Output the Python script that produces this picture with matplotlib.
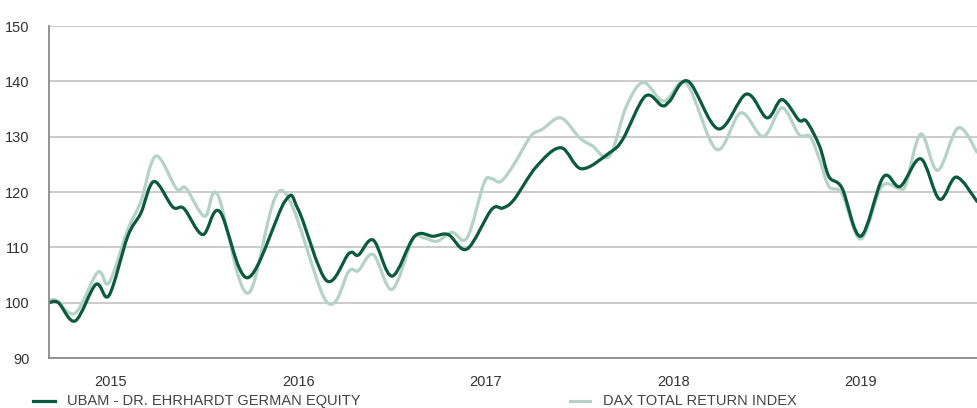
import numpy as np
import matplotlib
matplotlib.use("Agg")
import matplotlib.pyplot as plt
from matplotlib.path import Path
from matplotlib.patches import PathPatch
from matplotlib.lines import Line2D

# values (decimal year, index level)
ubam_x = [2014.67, 2014.72, 2014.81, 2014.92, 2014.99, 2015.09, 2015.16, 2015.23, 2015.33, 2015.39,
          2015.49, 2015.58, 2015.73, 2015.93, 2016.00, 2016.15, 2016.27, 2016.32, 2016.40, 2016.50,
          2016.62, 2016.72, 2016.80, 2016.90, 2017.03, 2017.09, 2017.15, 2017.27, 2017.40, 2017.51,
          2017.66, 2017.73, 2017.85, 2017.94, 2017.98, 2018.08, 2018.24, 2018.39, 2018.50, 2018.58,
          2018.67, 2018.71, 2018.78, 2018.83, 2018.90, 2019.00, 2019.12, 2019.21, 2019.32, 2019.42,
          2019.51, 2019.62]
ubam_y = [100.0, 100.0, 96.7, 103.3, 101.3, 112.0, 116.2, 121.9, 117.3, 117.0,
          112.3, 116.5, 104.5, 118.4, 116.8, 104.0, 108.9, 108.6, 111.3, 104.8,
          112.0, 112.0, 112.3, 109.7, 116.8, 117.1, 118.6, 124.6, 128.0, 124.2,
          127.1, 129.5, 137.3, 135.6, 136.4, 140.0, 131.4, 137.7, 133.4, 136.7,
          133.0, 132.8, 128.3, 122.8, 120.7, 112.0, 122.7, 121.0, 126.0, 118.7,
          122.7, 118.3]

dax_x = [2014.67, 2014.71, 2014.81, 2014.93, 2014.99, 2015.09, 2015.16, 2015.24, 2015.35, 2015.40,
         2015.50, 2015.57, 2015.73, 2015.91, 2016.15, 2016.27, 2016.32, 2016.40, 2016.50, 2016.61,
         2016.67, 2016.74, 2016.82, 2016.90, 2016.99, 2017.03, 2017.08, 2017.15, 2017.24, 2017.30,
         2017.40, 2017.50, 2017.57, 2017.66, 2017.75, 2017.84, 2017.95, 2018.07, 2018.23, 2018.36,
         2018.48, 2018.58, 2018.67, 2018.73, 2018.78, 2018.83, 2018.90, 2019.00, 2019.11, 2019.20,
         2019.24, 2019.32, 2019.41, 2019.52, 2019.62]
dax_y = [100.4, 100.4, 98.1, 105.5, 103.6, 113.2, 118.3, 126.5, 120.6, 120.7,
         115.6, 119.5, 101.7, 120.3, 100.2, 105.7, 105.8, 108.7, 102.4, 111.4,
         111.7, 111.1, 112.7, 111.7, 121.6, 122.4, 121.9, 125.0, 130.1, 131.3,
         133.4, 129.8, 128.3, 126.5, 135.5, 139.8, 136.4, 139.6, 127.7, 134.3,
         130.0, 135.2, 130.4, 130.0, 125.9, 121.0, 119.7, 111.5, 120.9, 120.7,
         121.3, 130.5, 123.9, 131.6, 127.2]

years = [2015, 2016, 2017, 2018, 2019]
y_ticks = [90, 100, 110, 120, 130, 140, 150]
labels = ["UBAM - DR. EHRHARDT GERMAN EQUITY", "DAX TOTAL RETURN INDEX"]
colors = ["#0b5a3d", "#b5d2c6"]


def spline_path(xs, ys):
    # smooth curve through the points (Catmull-Rom as cubic Bezier segments)
    p = np.column_stack([xs, ys]).astype(float)
    ext = np.vstack([p[0], p, p[-1]])
    verts = [p[0]]
    codes = [Path.MOVETO]
    for i in range(1, len(ext) - 2):
        c1 = ext[i] + (ext[i + 1] - ext[i - 1]) / 6
        c2 = ext[i + 1] - (ext[i + 2] - ext[i]) / 6
        verts += [c1, c2, ext[i + 1]]
        codes += [Path.CURVE4] * 3
    return Path(verts, codes)


plt.rcParams['font.family'] = ['Liberation Sans', 'DejaVu Sans']

fig = plt.figure(figsize=(9.77, 4.08), dpi=100)
ax = fig.add_axes([49 / 977, 50 / 408, 928 / 977, 332 / 408])

for xs, ys, c in [(dax_x, dax_y, colors[1]), (ubam_x, ubam_y, colors[0])]:
    ax.add_patch(PathPatch(spline_path(xs, ys), facecolor='none', edgecolor=c,
                           lw=2.3, capstyle='round', joinstyle='round'))

ax.set_xlim(ubam_x[0], ubam_x[-1])
ax.set_ylim(90, 150)
ax.set_yticks(y_ticks)
ax.set_xticks(years)
ax.set_xticklabels([str(y) for y in years])
ax.tick_params(length=0, labelsize=10.5, colors='#333333')
ax.tick_params(axis='x', pad=12)
ax.tick_params(axis='y', pad=14)
ax.grid(axis='y', color='#bdbdbd', lw=1.1)
ax.set_axisbelow(True)
for s in ['top', 'right']:
    ax.spines[s].set_visible(False)
ax.spines['left'].set_color('#8a8a8a')
ax.spines['bottom'].set_color('#8a8a8a')
ax.spines['left'].set_linewidth(1.3)
ax.spines['bottom'].set_linewidth(1.3)

# legend drawn along the bottom edge
ly = 1 - 401 / 408
for x0, x1, tx, lab, c in [(33, 55, 67, labels[0], colors[0]), (570, 590, 603, labels[1], colors[1])]:
    fig.add_artist(Line2D([x0 / 977, x1 / 977], [ly, ly], color=c, lw=2.3, transform=fig.transFigure))
    fig.text(tx / 977, ly, lab, fontsize=10.5, color='#444444', va='center', ha='left')

fig.savefig("out.png", dpi=100)
